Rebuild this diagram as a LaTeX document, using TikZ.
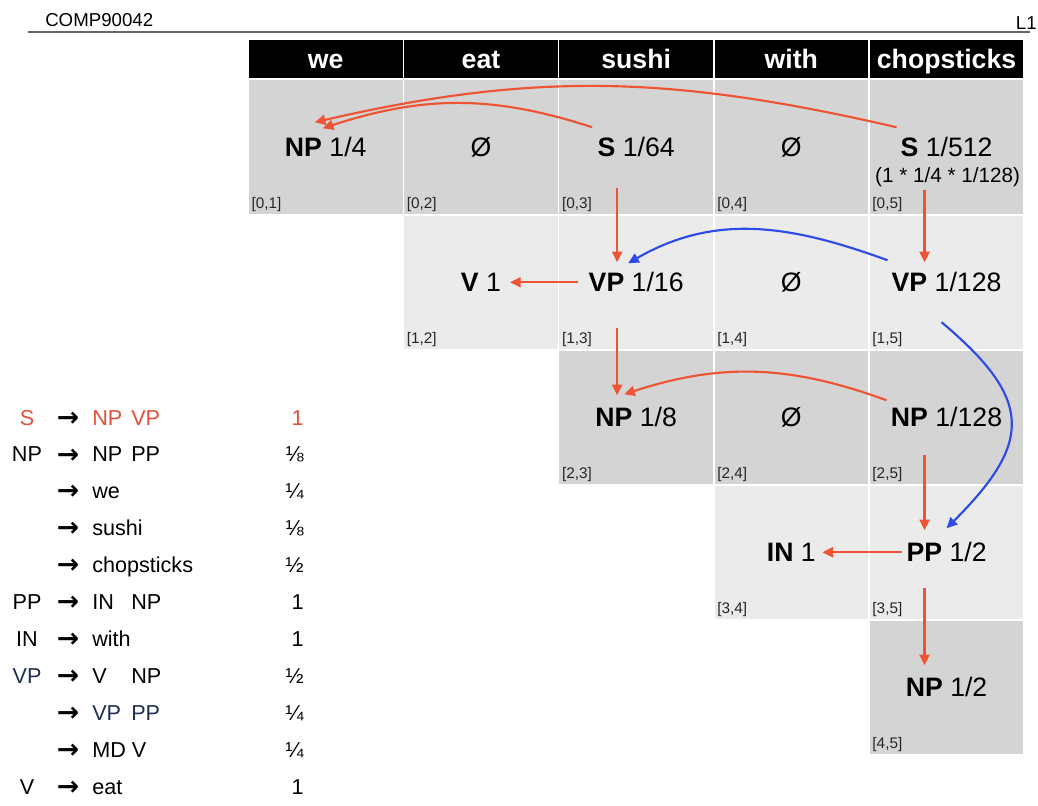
\documentclass[tikz,border=0pt]{standalone}
\usepackage{fontspec}
\setmainfont{Liberation Sans}
\newfontfamily\arrowfont{DejaVu Sans}
\usepackage{tikz}
\usetikzlibrary{arrows.meta, calc}

\definecolor{cellDark}{RGB}{212,212,212}
\definecolor{cellLight}{RGB}{235,235,235}
\definecolor{arrowRed}{RGB}{238,84,52}
\definecolor{ruleRed}{RGB}{226,80,58}
\definecolor{arrowBlue}{RGB}{45,75,230}
\definecolor{ruleNavy}{RGB}{30,45,80}

\newcommand{\sym}[1]{\makebox[29.25pt][l]{#1}}

\begin{document}
\begin{tikzpicture}[x=0.75pt, y=0.75pt,
  word/.style={rectangle, fill=black, text=white, minimum width=115.125pt, minimum height=28.5pt, inner sep=0pt, text height=14.3pt, text depth=0pt, font=\bfseries\fontsize{20}{24}\selectfont},
  cell/.style={rectangle, minimum width=115.125pt, minimum height=100.125pt, inner sep=0pt, text height=14.3pt, text depth=0pt, font=\fontsize{20}{24}\selectfont},
  darkcell/.style={cell, fill=cellDark},
  lightcell/.style={cell, fill=cellLight},
  idx/.style={anchor=south west, inner sep=2pt, font=\fontsize{11.5}{13}\selectfont, text=black!85},
  gram/.style={inner sep=0pt, font=\fontsize{16.2}{19}\selectfont},
  rewrite/.style={inner sep=0pt, font=\arrowfont\bfseries\fontsize{20}{24}\selectfont},
  redarrow/.style={-{Triangle[length=8pt,width=7.5pt]}, line width=1.6pt, draw=arrowRed},
  bluearrow/.style={-{Triangle[length=8pt,width=7.5pt]}, line width=1.6pt, draw=arrowBlue}]
\useasboundingbox (0,0) rectangle (1038,-806);

% Page header
\node[gram, anchor=base west, font=\fontsize{14}{16}\selectfont] (course) at (45,-27) {COMP90042};
\node[gram, anchor=base east, font=\fontsize{14}{16}\selectfont] (lecture) at (1037,-30) {L1};
\draw[black!60, line width=1.1pt] (28,-32) -- (1030,-32);

% Sentence
\node[word] (w1) at (325.75,-59) {we};
\node[word] (w2) at (480.95,-59) {eat};
\node[word] (w3) at (636.15,-59) {sushi};
\node[word] (w4) at (791.35,-59) {with};
\node[word] (w5) at (946.55,-59) {chopsticks};

% Chart row 0
\node[darkcell] (c01) at (325.75,-147.25) {\textbf{NP} 1/4};
\node[darkcell] (c02) at (480.95,-147.25) {Ø};
\node[darkcell] (c03) at (636.15,-147.25) {\textbf{S} 1/64};
\node[darkcell] (c04) at (791.35,-147.25) {Ø};
\node[darkcell] (c05) at (946.55,-147.25) {\textbf{S} 1/512};
\node[inner sep=0pt, font=\fontsize{15.5}{18}\selectfont] (prod05) at ($(c05)+(1,-30)$) {(1 * 1/4 * 1/128)};

% Chart row 1
\node[lightcell] (c12) at (480.95,-282.25) {\textbf{V} 1};
\node[lightcell] (c13) at (636.15,-282.25) {\textbf{VP} 1/16};
\node[lightcell] (c14) at (791.35,-282.25) {Ø};
\node[lightcell] (c15) at (946.55,-282.25) {\textbf{VP} 1/128};

% Chart row 2
\node[darkcell] (c23) at (636.15,-417.25) {\textbf{NP} 1/8};
\node[darkcell] (c24) at (791.35,-417.25) {Ø};
\node[darkcell] (c25) at (946.55,-417.25) {\textbf{NP} 1/128};

% Chart row 3
\node[lightcell] (c34) at (791.35,-552.25) {\textbf{IN} 1};
\node[lightcell] (c35) at (946.55,-552.25) {\textbf{PP} 1/2};

% Chart row 4
\node[darkcell] (c45) at (946.55,-687.25) {\textbf{NP} 1/2};

% Span labels
\node[idx] (i01) at (c01.south west) {[0,1]};
\node[idx] (i02) at (c02.south west) {[0,2]};
\node[idx] (i03) at (c03.south west) {[0,3]};
\node[idx] (i04) at (c04.south west) {[0,4]};
\node[idx] (i05) at (c05.south west) {[0,5]};
\node[idx] (i12) at (c12.south west) {[1,2]};
\node[idx] (i13) at (c13.south west) {[1,3]};
\node[idx] (i14) at (c14.south west) {[1,4]};
\node[idx] (i15) at (c15.south west) {[1,5]};
\node[idx] (i23) at (c23.south west) {[2,3]};
\node[idx] (i24) at (c24.south west) {[2,4]};
\node[idx] (i25) at (c25.south west) {[2,5]};
\node[idx] (i34) at (c34.south west) {[3,4]};
\node[idx] (i35) at (c35.south west) {[3,5]};
\node[idx] (i45) at (c45.south west) {[4,5]};

% Back pointers
\draw[redarrow] ($(c05)+(-50,20)$) to[out=167,in=13] ($(c01)+(-11,25)$);
\draw[redarrow] ($(c03)+(-44,20)$) to[out=162,in=18] ($(c01)+(-3,19)$);
\draw[redarrow] ($(c03)+(-19,-41)$) -- ($(c13)+(-19,20)$);
\draw[redarrow] ($(c05)+(-22,-43)$) -- ($(c15)+(-22,20)$);
\draw[redarrow] ($(c13)+(-58,0)$) -- ($(c12)+(29,0)$);
\draw[redarrow] ($(c13)+(-19,-46)$) -- ($(c23)+(-19,22)$);
\draw[bluearrow] ($(c15)+(-59,22)$) to[out=160,in=30] ($(c13)+(-8,19)$);
\draw[bluearrow] ($(c15)+(-5,-40)$) to[out=-40,in=45,looseness=1.5] ($(c35)+(0,24)$);
\draw[redarrow] ($(c25)+(-60,17)$) to[out=160,in=18] ($(c23)+(-12,23)$);
\draw[redarrow] ($(c25)+(-22,-38)$) -- ($(c35)+(-22,22)$);
\draw[redarrow] ($(c35)+(-45,0)$) -- ($(c34)+(31,0)$);
\draw[redarrow] ($(c35)+(-22,-36)$) -- ($(c45)+(-22,22)$);

% Grammar
\node[gram, anchor=base, text=ruleRed] (l0) at (27,-425) {S};
\node[rewrite] (a0) at (68,-419) {→};
\node[gram, anchor=base west, text=ruleRed] (r0) at (92,-425) {\sym{NP}VP};
\node[gram, anchor=base east, text=ruleRed] (p0) at (304,-425) {1};

\node[gram, anchor=base] (l1) at (27,-461.9) {NP};
\node[rewrite] (a1) at (68,-455.9) {→};
\node[gram, anchor=base west] (r1) at (92,-461.9) {\sym{NP}PP};
\node[gram, anchor=base east] (p1) at (304,-461.9) {⅛};

\node[rewrite] (a2) at (68,-492.8) {→};
\node[gram, anchor=base west] (r2) at (92,-498.8) {we};
\node[gram, anchor=base east] (p2) at (304,-498.8) {¼};

\node[rewrite] (a3) at (68,-529.7) {→};
\node[gram, anchor=base west] (r3) at (92,-535.7) {sushi};
\node[gram, anchor=base east] (p3) at (304,-535.7) {⅛};

\node[rewrite] (a4) at (68,-566.6) {→};
\node[gram, anchor=base west] (r4) at (92,-572.6) {chopsticks};
\node[gram, anchor=base east] (p4) at (304,-572.6) {½};

\node[gram, anchor=base] (l5) at (27,-609.5) {PP};
\node[rewrite] (a5) at (68,-603.5) {→};
\node[gram, anchor=base west] (r5) at (92,-609.5) {\sym{IN}NP};
\node[gram, anchor=base east] (p5) at (304,-609.5) {1};

\node[gram, anchor=base] (l6) at (27,-646.4) {IN};
\node[rewrite] (a6) at (68,-640.4) {→};
\node[gram, anchor=base west] (r6) at (92,-646.4) {with};
\node[gram, anchor=base east] (p6) at (304,-646.4) {1};

\node[gram, anchor=base, text=ruleNavy] (l7) at (27,-683.3) {VP};
\node[rewrite] (a7) at (68,-677.3) {→};
\node[gram, anchor=base west] (r7) at (92,-683.3) {\sym{V}NP};
\node[gram, anchor=base east] (p7) at (304,-683.3) {½};

\node[rewrite] (a8) at (68,-714.2) {→};
\node[gram, anchor=base west, text=ruleNavy] (r8) at (92,-720.2) {\sym{VP}PP};
\node[gram, anchor=base east] (p8) at (304,-720.2) {¼};

\node[rewrite] (a9) at (68,-751.1) {→};
\node[gram, anchor=base west] (r9) at (92,-757.1) {MD V};
\node[gram, anchor=base east] (p9) at (304,-757.1) {¼};

\node[gram, anchor=base] (l10) at (27,-794) {V};
\node[rewrite] (a10) at (68,-788) {→};
\node[gram, anchor=base west] (r10) at (92,-794) {eat};
\node[gram, anchor=base east] (p10) at (304,-794) {1};
\end{tikzpicture}
\end{document}
